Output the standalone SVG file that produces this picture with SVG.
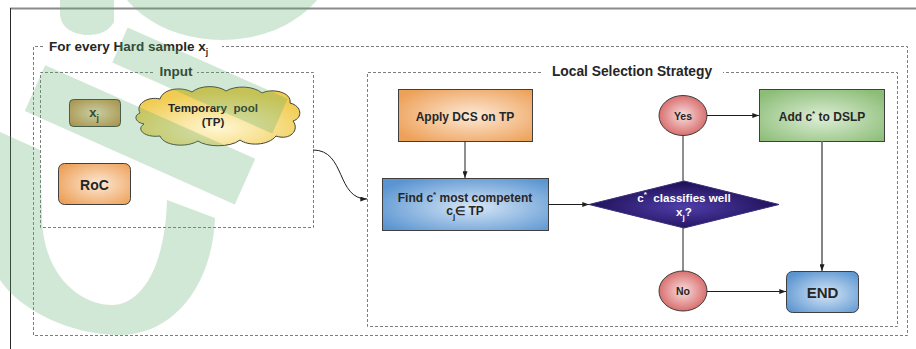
<svg xmlns="http://www.w3.org/2000/svg" width="916" height="349" viewBox="0 0 916 349">
  <defs>
    <style>
      text { font-family: "Liberation Sans", Arial, sans-serif; font-weight: bold; fill: #262626; text-anchor: middle; }
      .pre { white-space: pre; }
      .light { fill: #ffffff; }
      .frame { fill: none; stroke: #7d7d7d; stroke-width: 1; stroke-dasharray: 3 2; }
      .box { stroke: #3f3f3f; stroke-width: 1; }
      .link { fill: none; stroke: #1e1e1e; stroke-width: 1; }
      .arrow { marker-end: url(#head); }
    </style>
    <marker id="head" viewBox="0 0 8 6" refX="8" refY="3" markerWidth="7" markerHeight="5" orient="auto" markerUnits="userSpaceOnUse">
      <path d="M0,0 L8,3 L0,6 Z" fill="#1e1e1e"/>
    </marker>
    <radialGradient id="gOrange" cx="55%" cy="50%" r="65%">
      <stop offset="0" stop-color="#fde9d6"/>
      <stop offset="1" stop-color="#eda058"/>
    </radialGradient>
    <radialGradient id="gXj" cx="50%" cy="50%" r="65%">
      <stop offset="0" stop-color="#f4dcb8"/>
      <stop offset="1" stop-color="#c98a44"/>
    </radialGradient>
    <radialGradient id="gCloud" cx="50%" cy="70%" r="60%">
      <stop offset="0" stop-color="#fff7d4"/>
      <stop offset="1" stop-color="#f0cc52"/>
    </radialGradient>
    <radialGradient id="gBlue" cx="55%" cy="55%" r="65%">
      <stop offset="0" stop-color="#d6e6f6"/>
      <stop offset="1" stop-color="#5b95d1"/>
    </radialGradient>
    <radialGradient id="gGreen" cx="50%" cy="55%" r="65%">
      <stop offset="0" stop-color="#ddeed6"/>
      <stop offset="1" stop-color="#8cbd77"/>
    </radialGradient>
    <radialGradient id="gPink" cx="50%" cy="50%" r="55%">
      <stop offset="0" stop-color="#f9dede"/>
      <stop offset="1" stop-color="#d66565"/>
    </radialGradient>
    <radialGradient id="gPurple" cx="50%" cy="55%" r="55%">
      <stop offset="0" stop-color="#4f3ea9"/>
      <stop offset="1" stop-color="#1b0d52"/>
    </radialGradient>
  </defs>

  <rect width="916" height="349" fill="#ffffff"/>

  <!-- outer page frame -->
  <path d="M10,8.5 H916" stroke="#8a8a8a" stroke-width="2"/>
  <path d="M10.5,8 V349" stroke="#2a2a2a" stroke-width="1"/>

  <!-- dashed grouping frames -->
  <g id="frame-hard-sample">
    <path class="frame" d="M43,46.5 H33.5 V335.5 H907.5 V46.5 H222"/>
    <text x="49" y="51" style="font-size:13.5px;text-anchor:start">For every Hard sample x<tspan dy="4" style="font-size:8.5px">j</tspan></text>
  </g>
  <g id="frame-input">
    <path class="frame" d="M153,72.5 H40.5 V227.5 H313.5 V72.5 H197"/>
    <text x="176" y="76" style="font-size:13.5px">Input</text>
  </g>
  <g id="frame-local">
    <path class="frame" d="M541,72.5 H367.5 V326.5 H897.5 V72.5 H723"/>
    <text x="632" y="76" style="font-size:13.8px">Local Selection Strategy</text>
  </g>

  <!-- input nodes -->
  <g id="node-xj">
    <rect class="box" x="69.5" y="99.5" width="51" height="27" rx="4" fill="url(#gXj)"/>
    <text x="94" y="117" style="font-size:13px">x<tspan dy="4" style="font-size:8.5px">j</tspan></text>
  </g>
  <g id="node-pool">
    <path class="box" fill="url(#gCloud)" d="M140,113 C135,104 148,96 160,99 C163,89 180,86 192,92 C200,85 218,85 226,91 C236,85 254,86 262,93 C272,88 292,92 290,103 C302,106 303,118 293,121 C300,130 290,141 276,136 C268,146 248,146 240,140 C230,148 206,147 198,141 C186,148 164,146 160,136 C146,138 135,130 144,124 C134,122 134,115 140,113 Z"/>
    <text class="pre" x="213" y="112" style="font-size:11.6px">Temporary  pool</text>
    <text x="213" y="126" style="font-size:11.6px">(TP)</text>
  </g>
  <g id="node-roc">
    <rect class="box" x="58.5" y="163.5" width="72" height="41" rx="6" fill="url(#gOrange)"/>
    <text x="94.5" y="190" style="font-size:14px">RoC</text>
  </g>

  <!-- local selection nodes -->
  <g id="node-apply">
    <rect class="box" x="398.5" y="89.5" width="134" height="52" fill="url(#gOrange)"/>
    <text x="465" y="120.5" style="font-size:12px">Apply DCS on TP</text>
  </g>
  <g id="node-find">
    <rect class="box" x="382.5" y="178.5" width="166" height="52" fill="url(#gBlue)"/>
    <text x="465" y="202" style="font-size:12px">Find c<tspan dy="-5" style="font-size:8px">*</tspan><tspan dy="5"> most competent</tspan></text>
    <text x="465" y="215" style="font-size:12px">c<tspan dy="4" style="font-size:8px">j</tspan><tspan dy="-4">∈ TP</tspan></text>
  </g>
  <g id="node-decision">
    <polygon points="589,204.5 684,181 779,204.5 684,228" fill="url(#gPurple)" stroke="#3a2d7a" stroke-width="1"/>
    <text class="light pre" x="684" y="202" style="font-size:11.6px">c<tspan dy="-5" style="font-size:8px">*</tspan><tspan dy="5">  classifies well</tspan></text>
    <text class="light" x="684" y="216" style="font-size:11.6px">x<tspan dy="4" style="font-size:8px">j</tspan><tspan dy="-4">?</tspan></text>
  </g>
  <g id="node-yes">
    <ellipse class="box" cx="683" cy="115.5" rx="24" ry="20" fill="url(#gPink)"/>
    <text x="683" y="119.5" style="font-size:10.5px">Yes</text>
  </g>
  <g id="node-no">
    <ellipse class="box" cx="683" cy="291" rx="24" ry="20" fill="url(#gPink)"/>
    <text x="683" y="295" style="font-size:10.5px">No</text>
  </g>
  <g id="node-add">
    <rect class="box" x="759.5" y="89.5" width="125" height="52" fill="url(#gGreen)"/>
    <text x="822" y="121" style="font-size:12px">Add c<tspan dy="-5" style="font-size:8px">*</tspan><tspan dy="5"> to DSLP</tspan></text>
  </g>
  <g id="node-end">
    <rect class="box" x="786.5" y="271.5" width="72" height="41" rx="6" fill="url(#gBlue)"/>
    <text x="822.5" y="297.5" style="font-size:15px">END</text>
  </g>

  <!-- connectors -->
  <g id="connectors">
    <path class="link arrow" d="M313,150 C346,150 336,199 367,199"/>
    <path class="link arrow" d="M465,141.5 V178"/>
    <path class="link arrow" d="M548.5,204.5 H589"/>
    <path class="link" d="M683,135.5 V181"/>
    <path class="link arrow" d="M707,115.5 H759"/>
    <path class="link" d="M683,228 V271"/>
    <path class="link arrow" d="M707,291.5 H786"/>
    <path class="arrow" d="M822,141.5 V271" fill="none" stroke="#858585" stroke-width="2"/>
  </g>

  <!-- large translucent green marks laid over the left part -->
  <g id="green-marks" fill="#5aae6a" opacity="0.28">
    <ellipse cx="222" cy="-45" rx="112" ry="85"/>
    <path d="M60,0 L114,0 L114,22 Q106,36 85,35 Q62,32 60,15 Z"/>
    <polygon points="127.7,27.6 287.7,98.8 272.3,133.6 112.3,62.4"/>
    <polygon points="45.2,65.2 255.2,158.8 234.8,204.5 24.8,110.9"/>
    <path d="M0,132 L40,150 L42,215 C42,275 80,305 112,305 C140,305 165,270 167,200 L215,218 C212,290 170,335 120,335 C70,335 20,310 0,280 Z"/>
  </g>
</svg>
